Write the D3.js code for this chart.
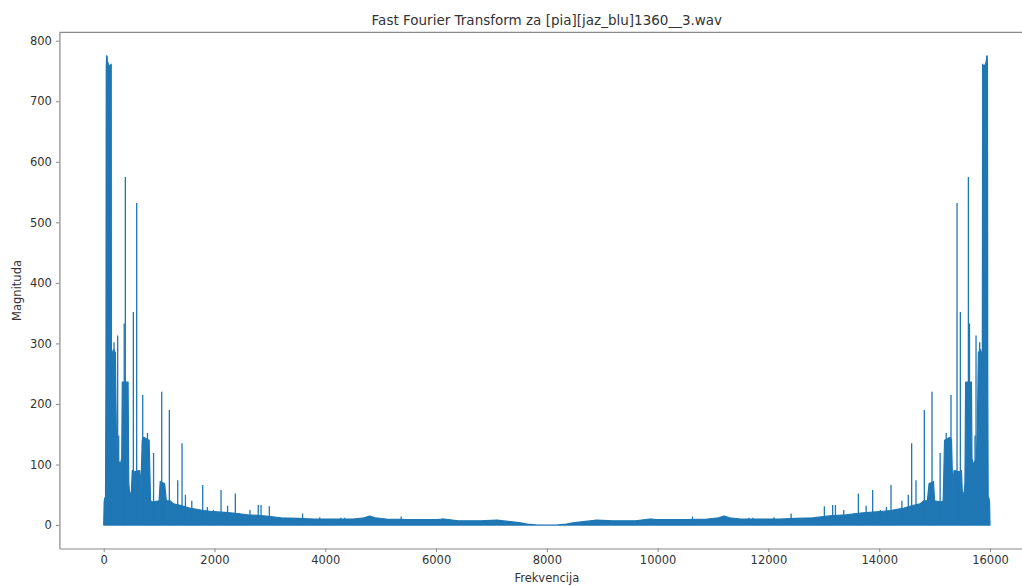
<!DOCTYPE html>
<html>
<head>
<meta charset="utf-8">
<script src="https://cdn.jsdelivr.net/npm/d3@7"></script>
<style>
  body { margin: 0; background: #fff; }
  svg { display: block; }
  text { font-family: "DejaVu Sans", sans-serif; fill: #333; }
</style>
</head>
<body>
<svg id="chart" width="1022" height="586"></svg>
<script>
// Spectrum of a real signal: magnitudes for 0..fs/2, the upper half is the mirror image.
const sampleRate = 16000;

// Upper edge of the dense noise floor (Hz, magnitude), 0..8000 Hz
const bandFreq  = [0, 8, 20, 32, 40, 46, 55, 70, 100, 132, 138, 150, 175, 210, 228, 245, 300, 325, 335, 440, 452, 470, 500, 515, 540, 650, 672, 695, 720, 820, 845, 880, 1000, 1020, 1060, 1100, 1130, 1200, 1260, 1400, 1550, 1800, 2000, 2300, 2600, 2900, 3200, 3500, 3800, 4200, 4500, 4700, 4800, 4900, 5100, 5500, 6000, 6150, 6400, 6800, 7100, 7300, 7500, 7650, 7800, 8000];
const bandLevel = [0, 38, 45, 30, 230, 760, 775, 765, 758, 760, 290, 280, 290, 285, 160, 110, 100, 110, 236, 236, 70, 50, 55, 90, 88, 90, 60, 140, 145, 140, 40, 38, 40, 72, 70, 68, 40, 40, 35, 32, 28, 24, 22, 20, 17, 15, 12, 11, 10, 10, 10, 12, 15, 12, 10, 9, 9, 10, 7, 7, 8, 6, 4, 1.5, 0.5, 0];

// Isolated harmonic spikes (Hz, magnitude), 0..8000 Hz
const spikeFreq = [54, 132, 186, 252, 270, 370, 390, 535, 595, 704, 760, 790, 900, 1047, 1090, 1185, 1336, 1414, 1475, 1590, 1787, 1870, 1980, 2118, 2236, 2376, 2450, 2640, 2790, 2840, 2990, 3590, 3900, 4280, 4350, 5370, 6118];
const spikeMag  = [775, 762, 302, 313, 148, 333, 575, 352, 532, 215, 137, 152, 119, 220, 70, 190, 74, 135, 50, 40, 66, 30, 25, 58, 32, 52, 20, 25, 33, 33, 31, 19, 13, 12, 12, 14, 11];

const xTicks = [0, 2000, 4000, 6000, 8000, 10000, 12000, 14000, 16000];
const yTicks = [0, 100, 200, 300, 400, 500, 600, 700, 800];

const titleText = "Fast Fourier Transform za [pia][jaz_blu]1360__3.wav";
const xLabel = "Frekvencija";
const yLabel = "Magnituda";

// Full 0..fs spectrum: lower half followed by its mirror
const band = bandFreq.map((f, i) => [f, bandLevel[i]]);
for (let i = bandFreq.length - 2; i >= 0; i--) band.push([sampleRate - bandFreq[i], bandLevel[i]]);
const spikes = spikeFreq.map((f, i) => [f, spikeMag[i]])
  .concat(spikeFreq.map((f, i) => [sampleRate - f, spikeMag[i]]));

const svg = d3.select("#chart");
const plotLeft = 59.4, plotTop = 32.4, plotBottom = 548.5, plotRight = 1034.3;

const x = d3.scaleLinear().domain([-800, 16800]).range([plotLeft, plotRight]);
const y = d3.scaleLinear().domain([-38.75, 813.75]).range([plotBottom, plotTop]);

const color = "#1f77b4";

// Noise floor as a filled band
svg.append("path")
  .datum(band)
  .attr("fill", color)
  .attr("stroke", color)
  .attr("stroke-width", 1.2)
  .attr("stroke-linejoin", "round")
  .attr("d", d3.area().x(d => x(d[0])).y0(y(0)).y1(d => y(d[1])));

// Spikes
const spikeLine = d3.line().x(d => x(d[0])).y(d => y(d[1]));
svg.append("g").selectAll("path")
  .data(spikes)
  .join("path")
  .attr("fill", "none")
  .attr("stroke", color)
  .attr("stroke-width", 1.3)
  .attr("d", d => spikeLine([[d[0], 0], [d[0], d[1]]]));

// Axes
const xAxis = svg.append("g")
  .attr("transform", `translate(0,${plotBottom})`)
  .call(d3.axisBottom(x).tickValues(xTicks).tickFormat(d3.format("d")).tickSize(3.5).tickSizeOuter(0).tickPadding(4));
const yAxis = svg.append("g")
  .attr("transform", `translate(${plotLeft},0)`)
  .call(d3.axisLeft(y).tickValues(yTicks).tickFormat(d3.format("d")).tickSize(3.5).tickSizeOuter(0).tickPadding(4));

[xAxis, yAxis].forEach(g => {
  g.select(".domain").attr("stroke", "#8a8a8a").attr("stroke-width", 1.2);
  g.selectAll(".tick line").attr("stroke", "#8a8a8a").attr("stroke-width", 1);
  g.selectAll(".tick text").attr("fill", "#333").style("font-size", "11.5px").style("font-family", "DejaVu Sans, sans-serif");
});

// Top spine
svg.append("line")
  .attr("x1", plotLeft).attr("x2", plotRight).attr("y1", plotTop).attr("y2", plotTop)
  .attr("stroke", "#8a8a8a").attr("stroke-width", 1.2);

// Title and axis labels
svg.append("text")
  .attr("x", (plotLeft + plotRight) / 2).attr("y", plotTop - 7)
  .attr("text-anchor", "middle").style("font-size", "13.5px")
  .text(titleText);

svg.append("text")
  .attr("x", (plotLeft + plotRight) / 2).attr("y", 582)
  .attr("text-anchor", "middle").style("font-size", "11.5px")
  .text(xLabel);

svg.append("text")
  .attr("transform", `translate(21,${(plotTop + plotBottom) / 2}) rotate(-90)`)
  .attr("text-anchor", "middle").style("font-size", "11.5px")
  .text(yLabel);
</script>
</body>
</html>
